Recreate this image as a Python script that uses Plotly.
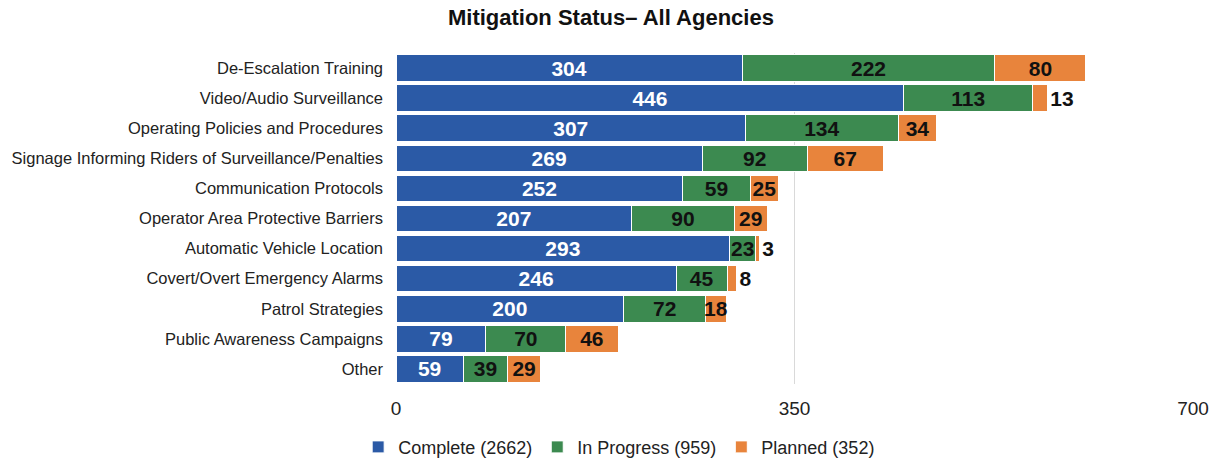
import plotly.graph_objects as go

categories = [
    "De-Escalation Training",
    "Video/Audio Surveillance",
    "Operating Policies and Procedures",
    "Signage Informing Riders of Surveillance/Penalties",
    "Communication Protocols",
    "Operator Area Protective Barriers",
    "Automatic Vehicle Location",
    "Covert/Overt Emergency Alarms",
    "Patrol Strategies",
    "Public Awareness Campaigns",
    "Other",
]
complete = [304, 446, 307, 269, 252, 207, 293, 246, 200, 79, 59]
in_progress = [222, 113, 134, 92, 59, 90, 23, 45, 72, 70, 39]
planned = [80, 13, 34, 67, 25, 29, 3, 8, 18, 46, 29]
series_names = ["Complete (2662)", "In Progress (959)", "Planned (352)"]
tick_vals = [0, 350, 700]

colors = ["#2B5AA6", "#3C8A50", "#E8843C"]
text_colors = ["white", "#111111", "#111111"]
FONT = "Liberation Sans, Arial, sans-serif"

fig = go.Figure()
for name, vals, col, tcol in zip(series_names, [complete, in_progress, planned], colors, text_colors):
    positions = []
    for v in vals:
        if name.startswith("Planned") and v < 15:
            positions.append("outside")
        else:
            positions.append("inside")
    fig.add_trace(go.Bar(
        y=categories, x=vals, name=name, orientation="h",
        marker=dict(color=col, line=dict(color="white", width=1)),
        text=[str(v) for v in vals], textposition=positions,
        insidetextanchor="middle", textangle=0,
        textfont=dict(family=FONT, size=21, color=tcol, weight="bold"),
        outsidetextfont=dict(family=FONT, size=21, color="#111111", weight="bold"),
        cliponaxis=False,
    ))

fig.update_layout(
    width=1217, height=462,
    barmode="stack", bargap=0.12,
    template="none",
    paper_bgcolor="white", plot_bgcolor="white",
    margin=dict(l=396, r=24, t=53, b=78, autoexpand=False),
    title=dict(text="<b>Mitigation Status– All Agencies</b>", x=0.502, xanchor="center", y=0.962, yanchor="middle",
               font=dict(family=FONT, size=22, color="#111111")),
    uniformtext=dict(mode="show", minsize=21),
    showlegend=True,
    legend=dict(orientation="h", x=0.28, xanchor="center", y=-0.135, yanchor="top",
                font=dict(family=FONT, size=18, color="#222222"),
                traceorder="normal", itemwidth=30, tracegroupgap=0),
    font=dict(family=FONT),
)
fig.update_xaxes(range=[0, 700], tickvals=tick_vals, ticktext=[str(t) for t in tick_vals],
                 showgrid=True, gridcolor="#D9D9D9", gridwidth=1, zeroline=False, automargin=False,
                 showline=False,
                 tickfont=dict(family=FONT, size=19, color="#222222"),
                 ticks="", ticklabelstandoff=11)
fig.update_yaxes(autorange="reversed", automargin=False, showgrid=False, zeroline=False,
                 tickfont=dict(family=FONT, size=16.5, color="#222222"),
                 ticks="", ticklabelstandoff=12, showline=False)

fig.write_html("out.html", config={"displayModeBar": False},
               post_script="document.body.style.margin='0px';")
